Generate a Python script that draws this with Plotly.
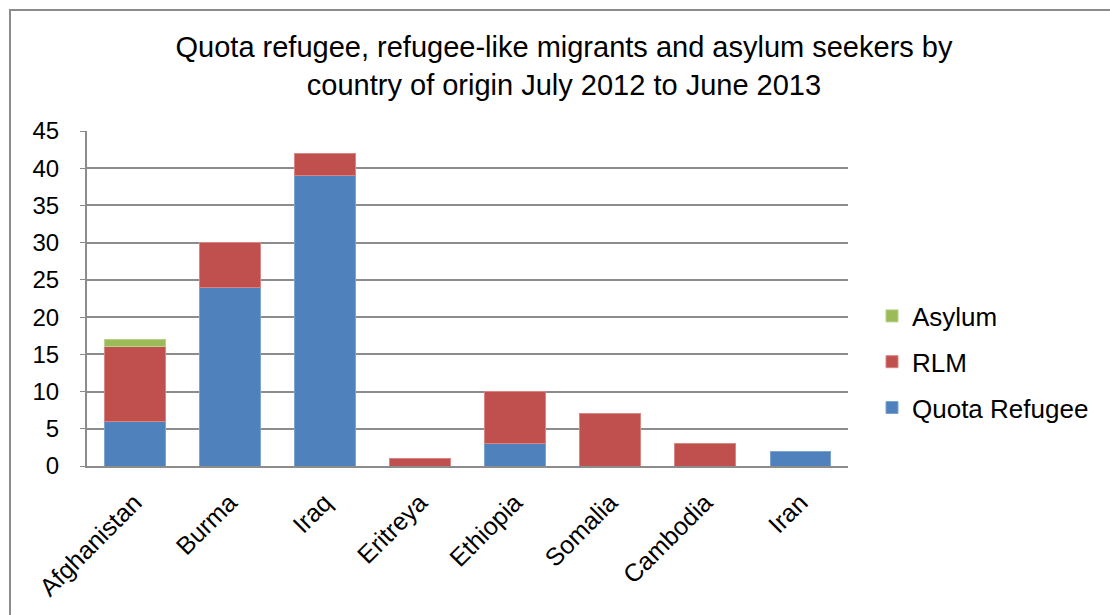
import plotly.graph_objects as go

countries = ["Afghanistan", "Burma", "Iraq", "Eritreya", "Ethiopia", "Somalia", "Cambodia", "Iran"]
quota_refugee = [6, 24, 39, None, 3, None, None, 2]
rlm = [10, 6, 3, 1, 7, 7, 3, None]
asylum = [1, None, None, None, None, None, None, None]

FONT = "Arial, Liberation Sans, sans-serif"
W, H = 1110, 615
L, R, T, B = 87, 262, 131, 149
pw, ph = W - L - R, H - T - B

fig = go.Figure()
series = [("Quota Refugee", quota_refugee, "#4F81BD", "#7FA3D1"),
          ("RLM", rlm, "#C0504D", "#D98583"),
          ("Asylum", asylum, "#9BBB59", "#B9D18A")]
for i, (name, vals, col, edge) in enumerate(series):
    fig.add_trace(go.Bar(
        x=countries, y=vals, name=name, legendgroup=f"g{i}",
        legendrank=1000 - i,
        marker=dict(color=col, line=dict(color=edge, width=1)),
    ))

def px_x(x):
    return (x - L) / pw

def px_y(y):
    return (H - B - y) / ph

fig.add_shape(type="rect", xref="paper", yref="paper",
              x0=px_x(10), x1=px_x(1125), y0=px_y(10), y1=px_y(630),
              line=dict(color="#8C8C8C", width=2), fillcolor="rgba(0,0,0,0)", layer="below")

fig.update_layout(
    width=W, height=H,
    margin=dict(l=L, r=R, t=T, b=B),
    barmode="stack", bargap=0.36,
    paper_bgcolor="white", plot_bgcolor="white",
    font=dict(family=FONT, color="black", size=24),
    title=dict(
        text="Quota refugee, refugee-like migrants and asylum seekers by<br>country of origin July 2012 to June 2013",
        x=564 / W, xanchor="center", xref="container",
        y=1 - 57 / H, yanchor="top", yref="container",
        font=dict(family=FONT, size=29, color="black"),
    ),
    legend=dict(
        x=px_x(872), xanchor="left", y=px_y(362), yanchor="middle",
        traceorder="grouped", tracegroupgap=9,
        font=dict(family=FONT, size=26, color="black"),
        bgcolor="rgba(0,0,0,0)",
    ),
    xaxis=dict(
        tickangle=-45, showline=True, linecolor="#8C8C8C", linewidth=2,
        ticks="", tickfont=dict(family=FONT, size=25, color="black"),
        ticklabelstandoff=10, showgrid=False,
    ),
    yaxis=dict(
        range=[0, 45], dtick=5, showgrid=True, gridcolor="#8C8C8C", gridwidth=1.5,
        showline=True, linecolor="#8C8C8C", linewidth=2,
        ticks="outside", ticklen=5, tickcolor="#8C8C8C",
        tickfont=dict(family=FONT, size=24, color="black"),
        ticklabelstandoff=16, zeroline=False,
    ),
)

fig.write_html("out.html")
